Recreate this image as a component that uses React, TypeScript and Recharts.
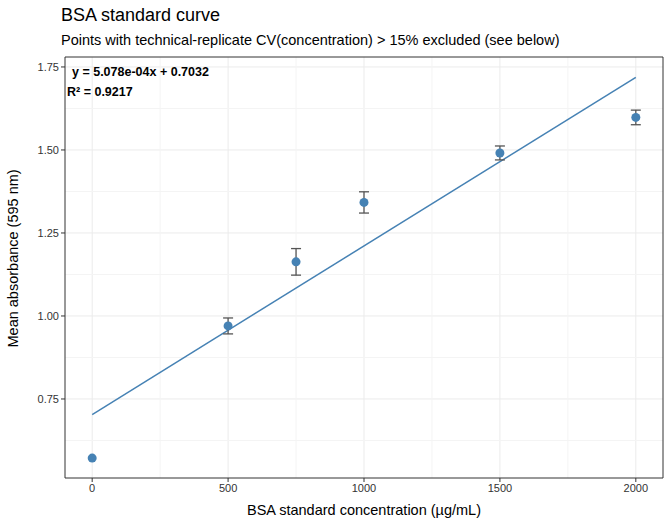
import React from "react";
import {
  ComposedChart,
  XAxis,
  YAxis,
  CartesianGrid,
  Scatter,
  ErrorBar,
  Line,
  ReferenceLine,
} from "recharts";

const concentrations = [0, 500, 750, 1000, 1500, 2000];
const meanAbs = [0.572, 0.97, 1.163, 1.342, 1.491, 1.598];
const sdAbs = [0, 0.024, 0.04, 0.032, 0.021, 0.022];
const slope = 5.078e-4;
const intercept = 0.7032;
const xTicks = [0, 500, 1000, 1500, 2000];
const xMinor = [-250, 250, 750, 1250, 1750];
const yTicks = [0.75, 1.0, 1.25, 1.5, 1.75];
const yMinor = [0.625, 0.875, 1.125, 1.375, 1.625];

const points = concentrations.map((x, i) => ({ x, y: meanAbs[i], err: sdAbs[i] }));
const fitLine = [0, 2000].map((x) => ({ x, y: slope * x + intercept }));

const font = "Liberation Sans, Arial, sans-serif";

export default function App() {
  return (
    <div style={{ position: "fixed", left: 0, top: 0, width: 672, height: 528, background: "#fff", fontFamily: font }}>
      <div style={{ position: "absolute", left: 61, top: 5, fontSize: 18, color: "#000" }}>BSA standard curve</div>
      <div style={{ position: "absolute", left: 61, top: 32, fontSize: 14.5, color: "#000" }}>
        Points with technical-replicate CV(concentration) &gt; 15% excluded (see below)
      </div>
      <ComposedChart width={672} height={528} margin={{ top: 57, right: 9, left: 10, bottom: 0 }} data={points}>
        <CartesianGrid stroke="#ebebeb" horizontalValues={yTicks} verticalValues={xTicks} />
        {xMinor.map((v) => (
          <ReferenceLine key={"vx" + v} x={v} stroke="#f4f4f4" ifOverflow="hidden" />
        ))}
        {yMinor.map((v) => (
          <ReferenceLine key={"hy" + v} y={v} stroke="#f4f4f4" ifOverflow="hidden" />
        ))}
        <XAxis
          type="number"
          dataKey="x"
          domain={[-100, 2100]}
          ticks={xTicks}
          allowDataOverflow
          height={50}
          tick={{ fontSize: 11, fill: "#333", fontFamily: font }}
          tickLine={{ stroke: "#333" }}
          tickSize={4}
          axisLine={false}
          label={{ value: "BSA standard concentration (µg/mL)", position: "insideBottom", offset: 13, fontSize: 14.5, fill: "#000", fontFamily: font }}
        />
        <YAxis
          type="number"
          domain={[0.512, 1.78]}
          ticks={yTicks}
          allowDataOverflow
          width={55}
          tickFormatter={(v: number) => v.toFixed(2)}
          tick={{ fontSize: 11, fill: "#333", fontFamily: font }}
          tickLine={{ stroke: "#333" }}
          tickSize={4}
          axisLine={false}
          label={{ value: "Mean absorbance (595 nm)", angle: -90, position: "insideLeft", offset: 3, dy: 80, fontSize: 14.5, fill: "#000", fontFamily: font }}
        />
        <ReferenceLine x={-100} stroke="#333" ifOverflow="extendDomain" />
        <ReferenceLine x={2100} stroke="#333" ifOverflow="extendDomain" />
        <ReferenceLine y={0.512} stroke="#333" ifOverflow="extendDomain" />
        <ReferenceLine y={1.78} stroke="#333" ifOverflow="extendDomain" />
        <Line
          data={fitLine}
          dataKey="y"
          type="linear"
          stroke="#4682b4"
          strokeWidth={1.5}
          dot={false}
          activeDot={false}
          isAnimationActive={false}
        />
        <Scatter data={points} dataKey="y" fill="#4682b4" isAnimationActive={false} shape={(p: any) => <circle cx={p.cx} cy={p.cy} r={4.5} fill="#4682b4" />}>
          <ErrorBar dataKey="err" direction="y" width={5} stroke="#555" strokeWidth={1.3} />
        </Scatter>
      </ComposedChart>
      <div style={{ position: "absolute", left: 72, top: 65, fontSize: 12.5, fontWeight: "bold", color: "#000" }}>
        y = 5.078e-04x + 0.7032
      </div>
      <div style={{ position: "absolute", left: 67, top: 85, fontSize: 12.5, fontWeight: "bold", color: "#000" }}>
        R² = 0.9217
      </div>
    </div>
  );
}
